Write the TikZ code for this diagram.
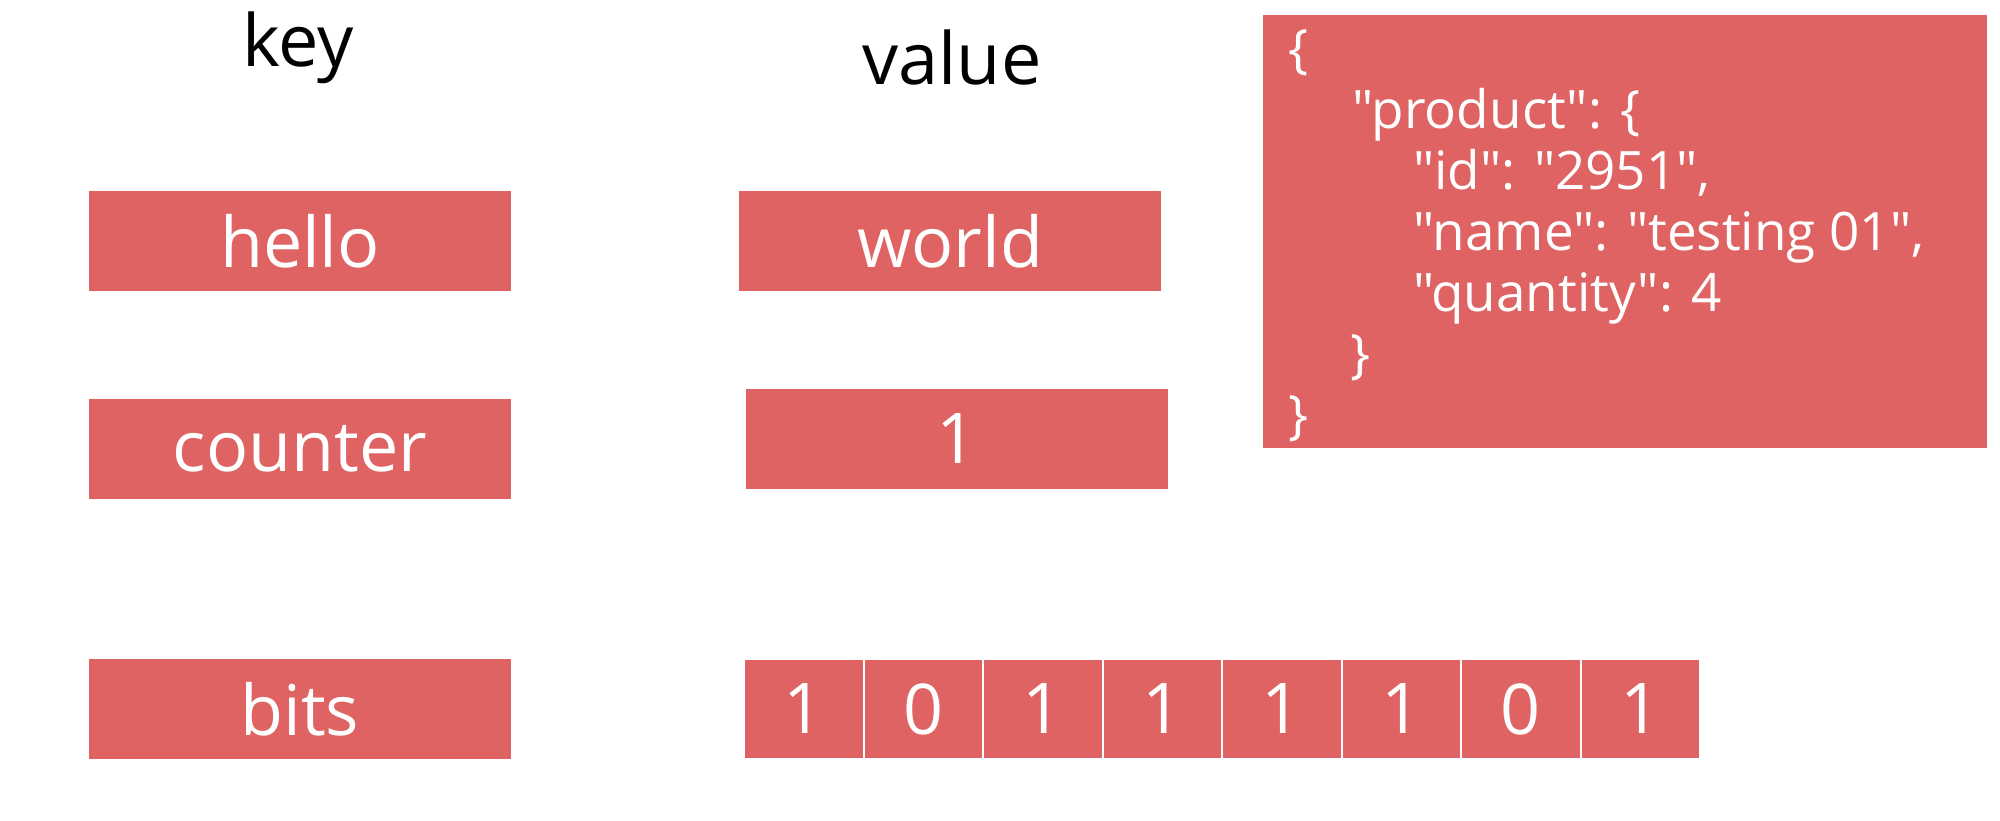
\documentclass[tikz,border=0pt]{standalone}
\usepackage{fontspec}
\setmainfont{Open Sans}[Ligatures=TeXOff]
\definecolor{boxred}{RGB}{222,99,98}
\begin{document}
\begin{tikzpicture}[x=1pt,y=-1pt,
  box/.style={fill=boxred, draw=none, text=white, inner sep=0pt,
    minimum width=422pt, minimum height=100pt,
    font=\fontsize{70}{76}\selectfont},
  bitcell/.style={fill=boxred, draw=white, line width=2pt, text=white, inner sep=0pt,
    minimum width=119.5pt, minimum height=100pt,
    font=\fontsize{70}{76}\selectfont},
  heading/.style={anchor=base, text=black, inner sep=0pt,
    font=\fontsize{72}{78}\selectfont},
  jsonline/.style={anchor=base west, text=white, inner sep=0pt,
    font=\fontsize{53}{60}\selectfont}]
\useasboundingbox (0,0) rectangle (2000,820);

% column headings
\node[heading] (keyhead) at (298,66) {key};
\node[heading] (valhead) at (952,84) {value};

% keys
\node[box] (hello) at (300,241) {hello};
\node[box] (counter) at (300,449) {counter};
\node[box] (bits) at (300,709) {bits};

% values
\node[box] (world) at (950,241) {world};
\node[box] (one) at (957,439) {1};

% bit array
\foreach \b [count=\i] in {1,0,1,1,1,1,0,1}
  \node[bitcell] (bit\i) at ({744+119.5*(\i-0.5)},709) {\b};

% JSON document
\node[fill=boxred, draw=none, inner sep=0pt, minimum width=724pt, minimum height=433pt,
  anchor=north west] (json) at (1263,15) {};
\node[jsonline] (j1) at (1288,67) {\{};
\node[jsonline] (j2) at (1352,128) {"product": \{};
\node[jsonline] (j3) at (1413,189) {"id": "2951",};
\node[jsonline] (j4) at (1413,250) {"name": "testing 01",};
\node[jsonline] (j5) at (1413,311) {"quantity": 4};
\node[jsonline] (j6) at (1350,372) {\}};
\node[jsonline] (j7) at (1288,433) {\}};
\end{tikzpicture}
\end{document}
